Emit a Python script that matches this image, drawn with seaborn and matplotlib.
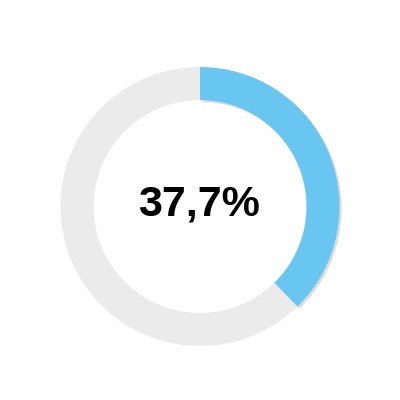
import matplotlib
matplotlib.use("Agg")
import matplotlib.pyplot as plt
import matplotlib.patheffects as pe
import seaborn as sns

sns.set_style("white")
plt.rcParams['font.family'] = ['Liberation Sans', 'DejaVu Sans']

labels = ["Share", "Rest"]
values = [37.7, 62.3]
colors = ["#68C6F0", "#EBEBEB"]
center_label = "37,7%"

fig = plt.figure(figsize=(4, 4), dpi=100)
cx, cy, r = 200 / 400, 1 - 206.5 / 400, 139.5 / 400
ax = fig.add_axes([cx - r, cy - r, 2 * r, 2 * r])
wedges, _ = ax.pie(values, colors=colors, startangle=90, counterclock=False,
                   radius=1, wedgeprops=dict(width=0.237, linewidth=0))
wedges[0].set_zorder(3)
wedges[0].set_path_effects([pe.SimplePatchShadow(offset=(1.5, -1.5), shadow_rgbFace="#888888", alpha=0.3),
                            pe.Normal()])
ax.set_xlim(-1, 1)
ax.set_ylim(-1, 1)
ax.set_aspect("equal")
ax.axis("off")

fig.text(0.4975, 1 - 215.5 / 400, center_label, ha="center", va="baseline",
         fontsize=31, fontweight="bold", color="black")

fig.savefig("out.png", dpi=100, facecolor="white")
